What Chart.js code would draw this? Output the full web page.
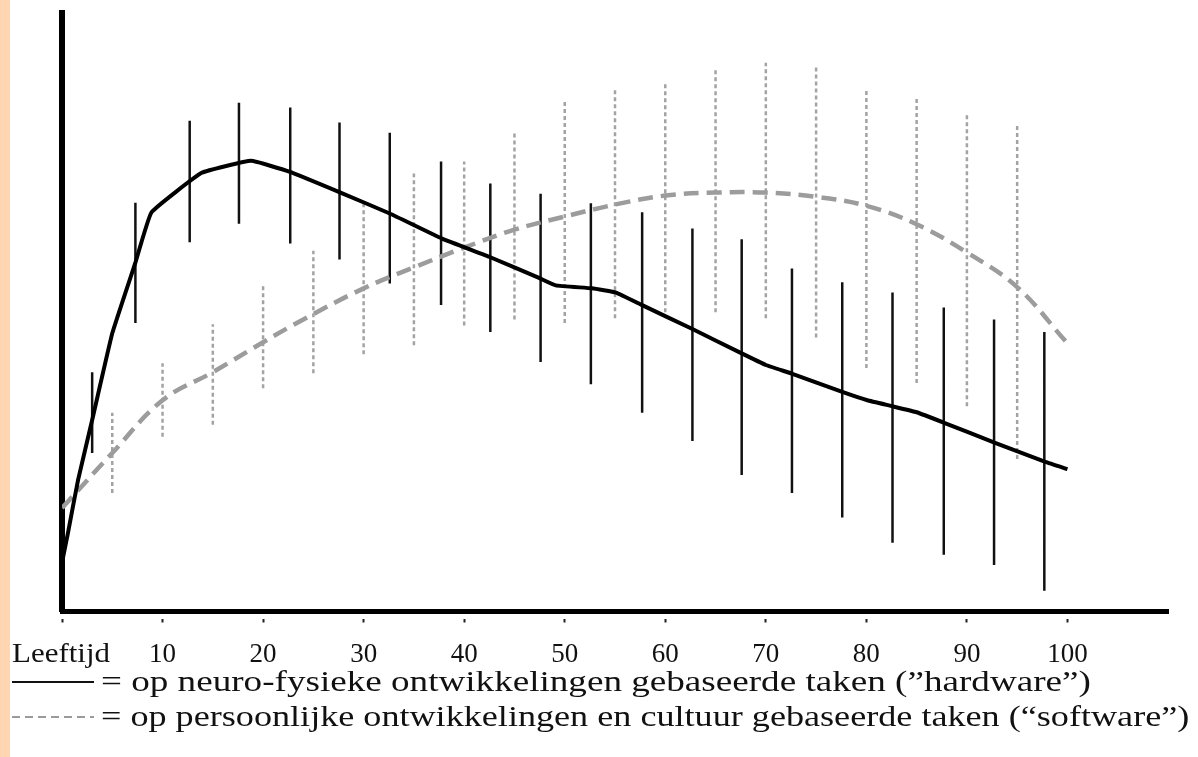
<!DOCTYPE html>
<html>
<head>
<meta charset="utf-8">
<script src="https://cdn.jsdelivr.net/npm/chart.js@4.4.0/dist/chart.umd.min.js"></script>
<style>
html,body{margin:0;padding:0;background:#fff;}
#wrap{position:relative;width:1198px;height:757px;overflow:hidden;background:#fff;}
#strip{position:absolute;left:0;top:0;width:10px;height:757px;background:#ffd5b2;}
canvas{position:absolute;left:0;top:0;}
.sw{position:absolute;left:12px;width:82px;height:2px;}
.txt{position:absolute;left:101px;font-family:"Liberation Serif","Times New Roman",serif;font-size:30px;line-height:30px;color:#111;white-space:nowrap;transform-origin:0 50%;}
</style>
</head>
<body>
<div id="wrap">
  <div id="strip"></div>
  <canvas id="chart" width="1198" height="757"></canvas>
  <div class="sw" style="top:681px;background:#111;"></div>
  <div class="txt" id="leg1" style="top:666px;">= op neuro-fysieke ontwikkelingen gebaseerde taken (”hardware”)</div>
  <div class="sw" style="top:716px;background:repeating-linear-gradient(90deg,#9a9a9a 0 8px,transparent 8px 13px);"></div>
  <div class="txt" id="leg2" style="top:701px;">= op persoonlijke ontwikkelingen en cultuur gebaseerde taken (“software”)</div>
</div>
<script>
// leeftijd (x) ticks
const xTicks=[0,10,20,30,40,50,60,70,80,90,100];

// hardware curve (solid black)
const hwCurveX=[0,0.6,1.6,3,5,7.3,8.9,13.9,18.8,22.6,27.7,32.6,37.8,42.6,47.5,49.1,52.7,55.1,57.7,62.7,67.4,70,72.5,77.6,80.1,82.6,85,87.8,92.8,97.8,100];
const hwCurveY=[8.2,13.2,22,32,46.5,58.3,66.7,73.3,75.3,73.5,70,66.5,62.3,59.2,55.7,54.5,54,53.3,51.2,47.2,43.3,41.2,39.8,36.7,35.3,34.3,33.3,31.5,28.2,25,23.8];

// software curve (grey dashed)
const swCurveX=[0,5,10,15,20,24,30,35,40,45,50,55,60,65,70,75,80,85,90,95,99.8];
const swCurveY=[17.3,26.5,35.3,40,45,48.8,54,57.5,60.8,63.8,66,68,69.5,70,70,69.3,67.8,64.7,60,54.2,45.2];

// hardware spreads
const hwBarX=[3,7.3,12.7,17.6,22.7,27.6,32.6,37.7,42.6,47.6,52.6,57.7,62.7,67.6,72.6,77.6,82.6,87.7,92.7,97.7];
const hwBarLow=[26.5,48.2,61.7,64.8,61.5,58.8,54.8,51.2,46.7,41.7,38,33.2,28.5,22.8,19.8,15.7,11.5,9.5,7.8,3.5];
const hwBarHigh=[40,68.3,82,85,84.2,81.7,80,75.2,71.5,69.8,68.2,66.7,64,62.2,57.3,55,53.3,50.8,48.8,46.7];

// software spreads
const swBarX=[5,10,15,20,25,30,35,40,45,50,55,60,65,70,75,80,85,90,95];
const swBarLow=[19.8,29.2,31.2,37.3,39.8,43,44.5,47.8,48.8,48.2,49,50,50,49,45.8,40.7,38.2,34.3,25.5];
const swBarHigh=[33.2,41.5,48,54.5,60.3,68.7,73.2,75.2,80.2,85.5,87.2,88.5,90.8,91.7,91,87.3,85.8,83.3,81.3];

function points(xs,ys){return xs.map((x,i)=>({x:x,y:ys[i]}));}
function spreads(xs,lo,hi){
  const out=[];
  xs.forEach((x,i)=>{out.push({x:x,y:lo[i]},{x:x,y:hi[i]},{x:x,y:null});});
  return out;
}

const FONT='"Liberation Serif","Times New Roman",serif';
const TICK_LEN=11, TICK_PAD=16, TICK_SIZE=27;

const leeftijdLabel={
  id:'leeftijd',
  afterDraw(chart){
    const ctx=chart.ctx, a=chart.chartArea;
    ctx.save();
    ctx.font=TICK_SIZE+'px '+FONT;
    ctx.fillStyle='#111';
    ctx.textAlign='left';
    ctx.textBaseline='middle';
    const w=ctx.measureText('Leeftijd').width;
    ctx.translate(12,a.bottom+TICK_LEN+TICK_PAD+TICK_SIZE*0.6);
    ctx.scale(98/w,1);
    ctx.fillText('Leeftijd',0,0);
    ctx.restore();
  }
};

new Chart(document.getElementById('chart'),{
  type:'line',
  data:{datasets:[
    {label:'software spreiding',data:spreads(swBarX,swBarLow,swBarHigh),borderColor:'#a3a3a3',borderWidth:2.5,borderDash:[4,3],spanGaps:false,pointRadius:0,order:4},
    {label:'hardware spreiding',data:spreads(hwBarX,hwBarLow,hwBarHigh),borderColor:'#111',borderWidth:2.5,spanGaps:false,pointRadius:0,order:3},
    {label:'software',data:points(swCurveX,swCurveY),borderColor:'#9c9c9c',borderWidth:4.5,borderDash:[15,8],tension:0.4,pointRadius:0,order:2},
    {label:'hardware',data:points(hwCurveX,hwCurveY),borderColor:'#000',borderWidth:4,tension:0.1,pointRadius:0,order:1}
  ]},
  options:{
    responsive:false,
    animation:false,
    events:[],
    layout:{padding:{left:62,right:30,top:13,bottom:70}},
    plugins:{legend:{display:false},tooltip:{enabled:false}},
    scales:{
      x:{
        type:'linear',min:0,max:110,
        afterBuildTicks(s){s.ticks=xTicks.map(v=>({value:v}));},
        grid:{display:true,drawOnChartArea:false,drawTicks:true,tickLength:TICK_LEN,tickWidth:2,tickColor:'#222',tickBorderDash:[0,5,6,20]},
        border:{display:true,width:5,color:'#000'},
        ticks:{autoSkip:false,maxRotation:0,padding:TICK_PAD,color:'#111',font:{family:FONT,size:TICK_SIZE},callback:v=>v===0?'':String(v)}
      },
      y:{
        min:0,max:100,
        grid:{display:false,drawTicks:false},
        border:{display:true,width:6,color:'#000'},
        ticks:{display:false}
      }
    }
  },
  plugins:[leeftijdLabel]
});

// stretch legend text to the width it has in the picture
[['leg1',990],['leg2',1088]].forEach(([id,w])=>{
  const el=document.getElementById(id);
  el.style.transform='scaleX('+(w/el.scrollWidth)+')';
});
</script>
</body>
</html>
